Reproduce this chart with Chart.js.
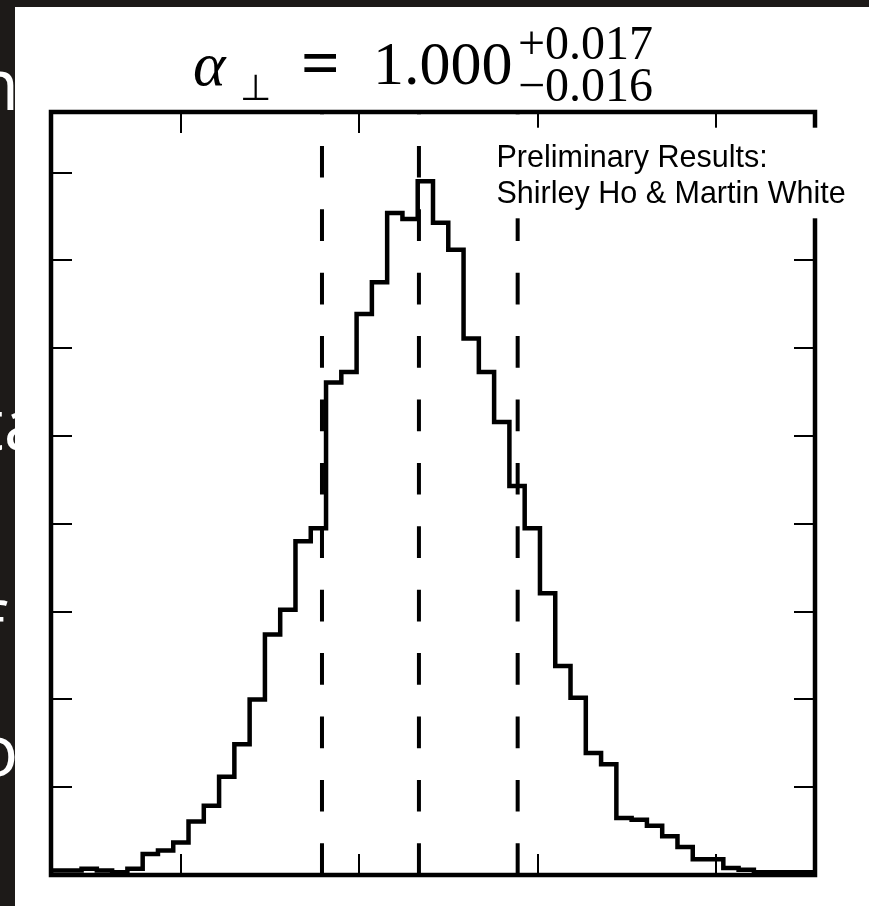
<!DOCTYPE html>
<html>
<head>
<meta charset="utf-8">
<script src="https://cdn.jsdelivr.net/npm/chart.js@4/dist/chart.umd.min.js"></script>
<style>
  html, body { margin: 0; padding: 0; width: 869px; height: 906px; overflow: hidden; background: #1d1a18; }
  .frag { position: absolute; color: #fff; font-family: "Open Sans", sans-serif; font-size: 72px; line-height: 98px; white-space: nowrap; }
  #panel { position: absolute; left: 15px; top: 7px; right: 0; bottom: 0; background: #fff; }
  #c { position: absolute; left: 0; top: 0; }
</style>
</head>
<body>
<!-- slide text running underneath the figure -->
<div class="frag" style="left:-25px; top:33px;">n</div>
<div class="frag" style="left:-22px; top:373px;">ta</div>
<div class="frag" style="left:-20px; top:578px;">f</div>
<div class="frag" style="left:-25px; top:699px;">o</div>
<div id="panel"></div>
<canvas id="c" width="869" height="906"></canvas>
<script>
// Posterior of alpha_perp: 50 equal-width bins between the sample extremes
const BIN_RANGE = [0.93814, 1.06659];
const COUNTS = [
  5, 5, 7, 5, 3, 7, 24, 28, 37, 61,
  79, 112, 149, 200, 274, 302, 380, 395, 561, 573,
  639, 675, 754, 747, 790, 743, 712, 611, 573, 516,
  443, 395, 321, 238, 202, 139, 126, 65, 63, 56,
  44, 32, 18, 18, 8, 6, 3, 3, 3, 3
];
// 16th / 50th / 84th percentiles
const PERCENTILES = [0.9837, 1.0000, 1.0166];
const X_TICKS = [0.96, 0.99, 1.02, 1.05];
const Y_TICKS = [100, 200, 300, 400, 500, 600, 700, 800];
const Y_MAX = 869;

const TITLE = { symbol: 'α', sub: '⊥', eq: '=', value: '1.000', plus: '+0.017', minus: '−0.016' };
const NOTE = ['Preliminary Results:', 'Shirley Ho & Martin White'];

// step outline of the histogram (value held from each left edge to the next)
const nb = COUNTS.length;
const bw = (BIN_RANGE[1] - BIN_RANGE[0]) / nb;
const edges = Array.from({ length: nb + 1 }, (_, i) => BIN_RANGE[0] + i * bw);
const outline = [{ x: edges[0], y: 0 }];
COUNTS.forEach((c, i) => outline.push({ x: edges[i], y: c }));
outline.push({ x: edges[nb], y: COUNTS[nb - 1] });
outline.push({ x: edges[nb], y: 0 });

const markerSets = PERCENTILES.map(v => ({
  data: [{ x: v, y: 0 }, { x: v, y: Y_MAX }],
  borderColor: '#000',
  borderWidth: 4,
  borderDash: [31.7, 31.7],
  borderCapStyle: 'butt',
  pointRadius: 0,
  fill: false
}));

const TICK_LEN = 21;

const framePlugin = {
  id: 'frame',
  afterDatasetsDraw(chart) {
    const { ctx, chartArea: a, scales: { x, y } } = chart;
    ctx.save();
    ctx.strokeStyle = '#000';
    ctx.lineWidth = 2;
    ctx.beginPath();
    X_TICKS.forEach(v => {
      const px = Math.round(x.getPixelForValue(v));
      ctx.moveTo(px, a.bottom); ctx.lineTo(px, a.bottom - TICK_LEN);
      ctx.moveTo(px, a.top); ctx.lineTo(px, a.top + TICK_LEN);
    });
    Y_TICKS.forEach(v => {
      const py = Math.round(y.getPixelForValue(v));
      ctx.moveTo(a.left, py); ctx.lineTo(a.left + TICK_LEN, py);
      ctx.moveTo(a.right, py); ctx.lineTo(a.right - TICK_LEN, py);
    });
    ctx.stroke();
    ctx.lineWidth = 4.5;
    ctx.lineJoin = 'miter';
    ctx.strokeRect(a.left, a.top, a.right - a.left, a.bottom - a.top);

    // credit box, opaque, laid over the upper right corner
    ctx.fillStyle = '#fff';
    ctx.fillRect(490, 127.7, 372, 90.6);
    ctx.fillStyle = '#000';
    ctx.font = '30.5px "Liberation Sans", Arial, sans-serif';
    ctx.textBaseline = 'alphabetic';
    ctx.textAlign = 'left';
    ctx.fillText(NOTE[0], 496.5, 166.7);
    ctx.fillText(NOTE[1], 496.5, 203.3);
    ctx.restore();
  },
  afterDraw(chart) {
    const ctx = chart.ctx;
    ctx.save();
    ctx.fillStyle = '#000';
    ctx.textBaseline = 'alphabetic';
    ctx.textAlign = 'left';
    ctx.font = 'italic 62px "Liberation Serif", serif';
    ctx.fillText(TITLE.symbol, 193, 85);
    ctx.font = '36px "DejaVu Sans", sans-serif';
    ctx.fillText(TITLE.sub, 240, 100);
    ctx.font = 'bold 68px "Liberation Serif", serif';
    ctx.fillText(TITLE.eq, 301, 85);
    ctx.font = '62px "Liberation Serif", serif';
    ctx.fillText(TITLE.value, 373, 84);
    ctx.font = '48px "Liberation Serif", serif';
    ctx.fillText(TITLE.plus, 518, 59);
    ctx.fillText(TITLE.minus, 518, 101);
    ctx.restore();
  }
};

new Chart(document.getElementById('c'), {
  type: 'line',
  data: {
    datasets: [
      {
        data: outline,
        stepped: true,
        borderColor: '#000',
        borderWidth: 4.5,
        borderJoinStyle: 'miter',
        pointRadius: 0,
        fill: false
      },
      ...markerSets
    ]
  },
  options: {
    responsive: false,
    animation: false,
    devicePixelRatio: 1,
    layout: { padding: { left: 51, top: 112, right: 54, bottom: 31 } },
    plugins: { legend: { display: false }, tooltip: { enabled: false } },
    scales: {
      x: { type: 'linear', min: BIN_RANGE[0], max: BIN_RANGE[1], display: false },
      y: { type: 'linear', min: 0, max: Y_MAX, display: false }
    }
  },
  plugins: [framePlugin]
});
</script>
</body>
</html>
